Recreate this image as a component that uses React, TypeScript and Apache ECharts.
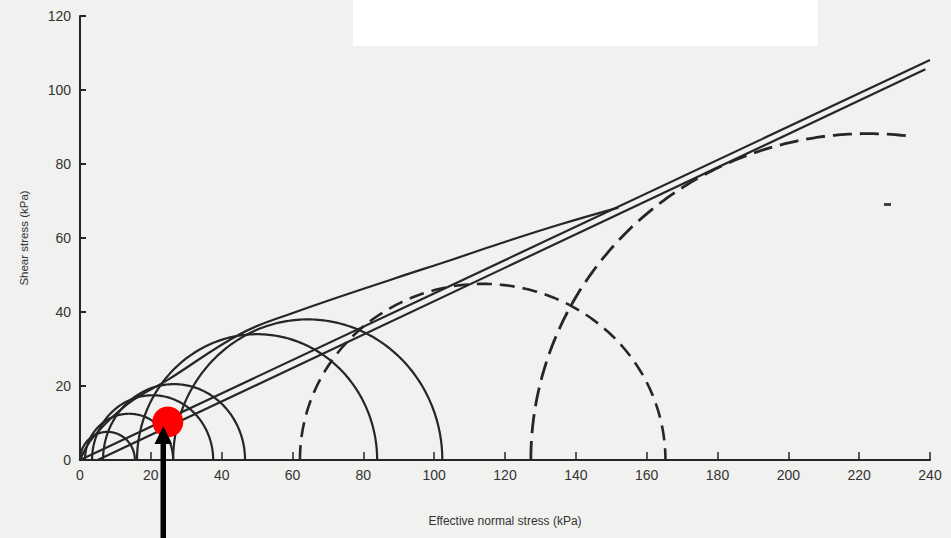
import React, { useEffect, useRef } from "react";
import * as echarts from "echarts";

// Mohr circles: [left end, right end, top height, start angle, end angle]
const solidCircles: number[][] = [
  [0, 15.5, 7.6, 180, 0],
  [1.4, 26.3, 12.5, 180, 0],
  [3.4, 37.6, 17.5, 180, 0],
  [6.5, 46.6, 20.5, 180, 0],
  [16.1, 83.9, 34, 180, 0],
  [26.3, 102.3, 38, 180, 0],
];
const dashedCircleSmall: number[][] = [[62.1, 165.3, 47.6, 180, 0]];
const dashedCircleLarge: number[][] = [[127.3, 317.7, 88.2, 180, 83]];

// curved failure envelope
const curvedEnvelope: number[][] = [
  [0, 0], [3.8, 6.3], [13.5, 15.2], [25, 21.8], [45.5, 34.2], [60.3, 39.8],
  [88.6, 49], [104.6, 54], [118.6, 58.5], [135, 63.5], [152, 68.2],
];
// straight envelopes
const upperLine: number[][] = [[0, 0], [240, 108.1]];
const lowerLine: number[][] = [[5, 0], [238.7, 105.6]];

// highlighted point
const marker: number[][] = [[24.8, 10.3]];

const xName = "Effective normal stress (kPa)";
const yName = "Shear stress (kPa)";

const INK = "#262626";

function arcRenderer(lineWidth: number, dash: number[] | null) {
  return (params: any, api: any) => {
    const l = api.value(0);
    const r = api.value(1);
    const h = api.value(2);
    const a0 = api.value(3);
    const a1 = api.value(4);
    const cx = (l + r) / 2;
    const rx = (r - l) / 2;
    const pts: number[][] = [];
    const N = 160;
    for (let k = 0; k <= N; k++) {
      const t = ((a0 + ((a1 - a0) * k) / N) * Math.PI) / 180;
      pts.push(api.coord([cx + rx * Math.cos(t), h * Math.sin(t)]));
    }
    return {
      type: "polyline",
      shape: { points: pts },
      style: {
        stroke: INK,
        lineWidth,
        fill: "none",
        lineDash: dash || undefined,
      },
    };
  };
}

export default function App() {
  const ref = useRef<HTMLDivElement>(null);
  useEffect(() => {
    document.body.style.margin = "0";
    const chart = echarts.init(ref.current!, null, { renderer: "svg" });
    const font = "'Liberation Sans', Arial, sans-serif";
    chart.setOption({
      animation: false,
      backgroundColor: "#f1f1ef",
      grid: { left: 80, right: 21, top: 16, bottom: 78 },
      xAxis: {
        type: "value",
        min: 0,
        max: 240,
        interval: 20,
        name: xName,
        nameLocation: "middle",
        nameGap: 55,
        nameTextStyle: { fontFamily: font, fontSize: 12, color: "#333" },
        axisLine: { show: true, onZero: false, lineStyle: { color: INK, width: 2 } },
        axisTick: { show: true, inside: true, length: 8, lineStyle: { color: INK, width: 1.5 } },
        axisLabel: { fontFamily: font, fontSize: 14, color: "#333", margin: 8 },
        splitLine: { show: false },
      },
      yAxis: {
        type: "value",
        min: 0,
        max: 120,
        interval: 20,
        name: yName,
        nameLocation: "middle",
        nameGap: 50,
        nameTextStyle: { fontFamily: font, fontSize: 11.5, color: "#333" },
        axisLine: { show: true, onZero: false, lineStyle: { color: INK, width: 2 } },
        axisTick: { show: true, inside: true, length: 6, lineStyle: { color: INK, width: 2 } },
        axisLabel: { fontFamily: font, fontSize: 14, color: "#333", margin: 9 },
        splitLine: { show: false },
      },
      graphic: [
        { type: "rect", z: 0, shape: { x: 353, y: 0, width: 465, height: 46 }, style: { fill: "#ffffff" } },
        { type: "rect", z: 100, shape: { x: 884, y: 203, width: 7, height: 3 }, style: { fill: "#444" } },
        { type: "rect", z: 100, shape: { x: 160.5, y: 441, width: 5.5, height: 97 }, style: { fill: "#000" } },
        { type: "polygon", z: 100, shape: { points: [[154.5, 444], [172, 444], [163.3, 426]] }, style: { fill: "#000" } },
      ],
      series: [
        {
          type: "custom",
          renderItem: arcRenderer(2.2, null),
          data: solidCircles,
          encode: { x: [0, 1], y: 2 },
          silent: true,
        },
        {
          type: "custom",
          renderItem: arcRenderer(2.6, [15, 8]),
          data: dashedCircleSmall,
          encode: { x: [0, 1], y: 2 },
          silent: true,
        },
        {
          type: "custom",
          renderItem: arcRenderer(2.8, [19, 8]),
          data: dashedCircleLarge,
          encode: { x: [0, 1], y: 2 },
          silent: true,
        },
        {
          type: "line",
          data: curvedEnvelope,
          smooth: 0.4,
          showSymbol: false,
          lineStyle: { color: INK, width: 2.2 },
          silent: true,
        },
        {
          type: "line",
          data: upperLine,
          showSymbol: false,
          lineStyle: { color: INK, width: 2.2 },
          silent: true,
        },
        {
          type: "line",
          data: lowerLine,
          showSymbol: false,
          lineStyle: { color: INK, width: 2.2 },
          silent: true,
        },
        {
          type: "scatter",
          data: marker,
          symbolSize: 31,
          itemStyle: { color: "#ff0000", opacity: 1 },
          z: 10,
          silent: true,
        },
      ],
    });
    return () => chart.dispose();
  }, []);
  return <div ref={ref} style={{ width: 951, height: 538 }} />;
}
